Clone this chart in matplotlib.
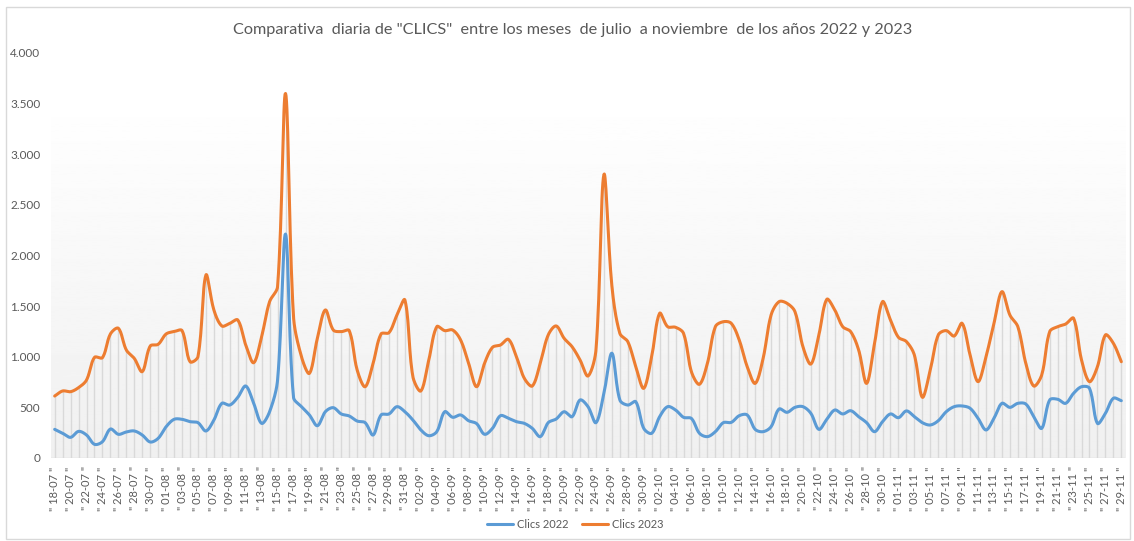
import numpy as np
import pandas as pd
import matplotlib
matplotlib.use("Agg")
import matplotlib.pyplot as plt
from matplotlib.patches import Rectangle

plt.rcParams["font.family"] = ["Lato", "DejaVu Sans"]

# daily clicks, 18-07 to 29-11
fechas = pd.date_range("2023-07-18", "2023-11-29", freq="D")

clics_2022 = [283, 244, 204, 263, 227, 135, 161, 286, 234, 257,
              267, 227, 158, 194, 309, 382, 382, 359, 349, 267,
              375, 540, 523, 599, 711, 540, 342, 457, 770, 2212,
              600, 507, 425, 319, 457, 497, 435, 415, 365, 349,
              227, 425, 435, 507, 457, 375, 277, 220, 260, 457,
              402, 425, 368, 340, 234, 293, 418, 392, 359, 342,
              293, 211, 349, 385, 457, 408, 573, 507, 349, 639,
              1035, 573, 523, 556, 293, 244, 408, 507, 474, 402,
              390, 244, 211, 260, 349, 352, 418, 425, 283, 260,
              309, 484, 451, 500, 507, 441, 283, 382, 474, 435,
              467, 408, 349, 260, 359, 435, 398, 465, 408, 349,
              326, 368, 457, 507, 514, 491, 392, 277, 392, 540,
              500, 540, 533, 408, 293, 573, 580, 540, 639, 704,
              688, 342, 441, 590, 566]

clics_2023 = [612, 662, 655, 695, 770, 994, 991, 1225, 1281, 1067,
              984, 853, 1106, 1123, 1225, 1248, 1258, 951, 1001, 1807,
              1462, 1304, 1330, 1363, 1116, 941, 1200, 1544, 1692, 3600,
              1400, 1001, 836, 1182, 1462, 1264, 1248, 1258, 869, 704,
              935, 1225, 1238, 1412, 1560, 803, 662, 968, 1297, 1258,
              1264, 1165, 935, 704, 935, 1093, 1116, 1172, 1001, 787,
              711, 935, 1215, 1304, 1182, 1099, 968, 810, 1067, 2800,
              1700, 1231, 1149, 902, 688, 1001, 1429, 1297, 1291, 1231,
              850, 728, 935, 1297, 1346, 1330, 1165, 902, 737, 984,
              1412, 1544, 1528, 1445, 1099, 928, 1215, 1567, 1462, 1297,
              1248, 1067, 737, 1133, 1544, 1363, 1192, 1150, 1017, 600,
              869, 1215, 1258, 1205, 1330, 1017, 754, 1001, 1330, 1643,
              1412, 1297, 935, 711, 820, 1248, 1297, 1323, 1380, 968,
              754, 902, 1215, 1133, 951]

etiquetas = ['" %s "' % d.strftime("%d-%m") for d in fechas[::2]]
y_ticks = [0, 500, 1000, 1500, 2000, 2500, 3000, 3500, 4000]

gris = "#595959"


def suavizar(y, sx=7.96, sy=0.10125, pasos=16):
    # excel-like smoothed line: bezier through the points, tangents
    # scaled by segment length (done in pixel space)
    p = np.column_stack([np.arange(len(y)) * sx, np.asarray(y, float) * sy])
    p = np.vstack([p[0], p, p[-1]])
    t = np.linspace(0, 1, pasos, endpoint=False)[:, None]
    out = []
    for i in range(len(y) - 1):
        p0, p1, p2, p3 = p[i], p[i + 1], p[i + 2], p[i + 3]
        d01 = np.hypot(*(p1 - p0))
        d12 = np.hypot(*(p2 - p1))
        d23 = np.hypot(*(p3 - p2))
        c1 = p1 + (p2 - p0) * d12 / max(d01 + d12, 1e-9) / 3
        c2 = p2 - (p3 - p1) * d12 / max(d12 + d23, 1e-9) / 3
        b = (1 - t)**3 * p1 + 3 * (1 - t)**2 * t * c1 + 3 * (1 - t) * t**2 * c2 + t**3 * p2
        out.append(b)
    out.append(p[-2][None, :])
    out = np.vstack(out)
    return out[:, 0] / sx, out[:, 1] / sy


fig = plt.figure(figsize=(11.34, 5.41), dpi=100)
ax = fig.add_axes([50.7 / 1134, 83 / 541, 1074.6 / 1134, 405 / 541])

x = np.arange(len(fechas))

# gradient background behind the data
grad = np.linspace(0.94, 1.0, 256).reshape(-1, 1)
ax.imshow(grad, cmap="gray", vmin=0, vmax=1, aspect="auto", origin="lower",
          extent=(-0.5, len(x) - 0.5, 0, max(clics_2023)), zorder=0)

# drop lines
ax.vlines(x, 0, np.maximum(clics_2022, clics_2023), color="#d9d9d9", lw=1, zorder=1)

xs, ys = suavizar(clics_2022)
ax.plot(xs, ys, color="#5b9bd5", lw=2.2, label="Clics 2022", zorder=3,
        solid_capstyle="round")
xs, ys = suavizar(clics_2023)
ax.plot(xs, ys, color="#ed7d31", lw=2.2, label="Clics 2023", zorder=3,
        solid_capstyle="round")

ax.axhline(0, color="#d9d9d9", lw=1, zorder=2)

ax.set_xlim(-0.5, len(x) - 0.5)
ax.set_ylim(0, 4000)
ax.set_yticks(y_ticks)
ax.set_yticklabels(["{:,}".format(v).replace(",", ".") for v in y_ticks])
ax.set_xticks(x[::2])
ax.set_xticklabels(etiquetas, rotation=90)
ax.tick_params(axis="y", length=0, pad=7.5, labelsize=8.5, labelcolor=gris)
ax.tick_params(axis="x", length=0, pad=6, labelsize=8, labelcolor=gris)
for s in ax.spines.values():
    s.set_visible(False)
ax.set_facecolor("none")

fig.text(0.505, 0.945, 'Comparativa  diaria de "CLICS"  entre los meses  de julio  a noviembre  de los años 2022 y 2023',
         ha="center", va="center", fontsize=11.7, color=gris)

fig.legend(loc="center", bbox_to_anchor=(0.507, 0.03), ncol=2, frameon=False,
           fontsize=8, labelcolor=gris, handlelength=2.4, columnspacing=1.2,
           handletextpad=0.3)

fig.add_artist(Rectangle((6 / 1134, 2 / 541), 1124 / 1134, 532 / 541,
                         transform=fig.transFigure, fill=False, ec="#d9d9d9", lw=1))

plt.savefig("out.png", dpi=100)
